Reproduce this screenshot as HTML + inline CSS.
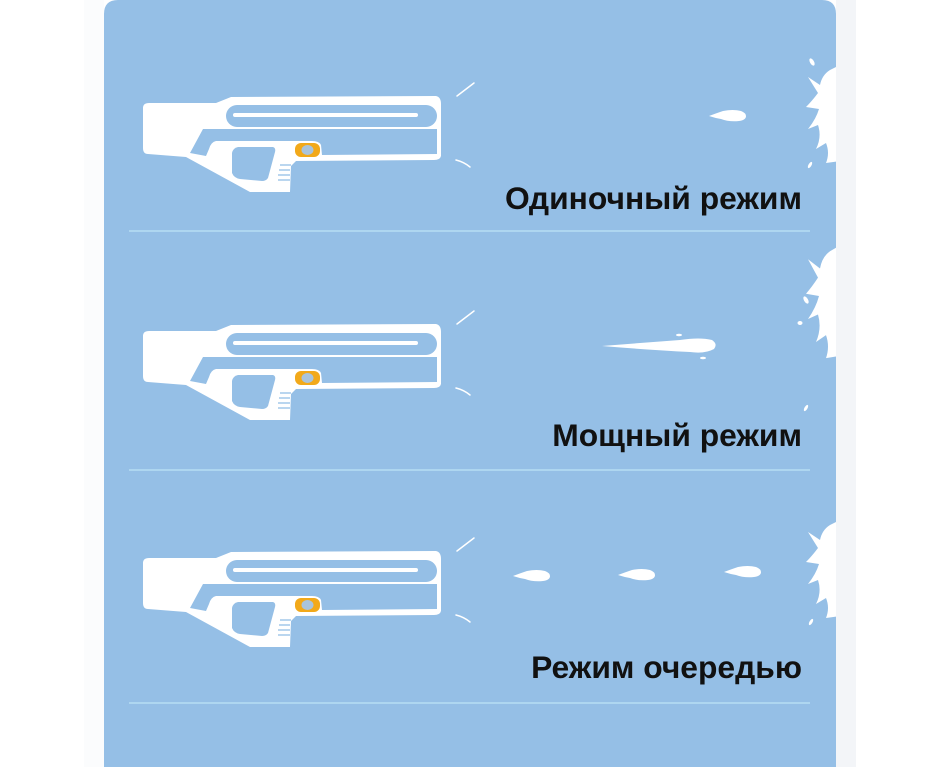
<!DOCTYPE html>
<html><head><meta charset="utf-8"><style>
html,body{margin:0;padding:0;background:#fff;width:938px;height:767px;overflow:hidden}
svg{display:block}
</style></head><body>
<svg width="938" height="767" viewBox="0 0 938 767" xmlns="http://www.w3.org/2000/svg">
<defs>
<clipPath id="card"><path d="M104,0 L836,0 L836,767 L104,767 Z"/></clipPath>
<g id="gun">
  <path fill="#fff" d="M143,108 Q143,103 149,103 L216,103 L231,97 L436,96 Q441,97 441,104 L441,156 Q440,160 434,160 L296,161 L291,166 L290,192 L250,192 L186,157 L148,154 Q143,154 143,148 Z"/>
  <rect x="226" y="105" width="211" height="22" rx="11" fill="#95bfe6"/>
  <path fill="#95bfe6" d="M203,129 L437,129 L437,154 L322,155 L321,145 Q319,141 312,141 L216,141 Q211,142 209,149 L206,156 L190,153 Z"/>
  <path fill="#95bfe6" d="M238,147 L273,147 Q276,148 275,152 L268,178 Q266,181 262,181 L240,179 Q234,178 232,173 L232,153 Q233,148 238,147 Z"/>
  <rect x="233" y="113" width="185" height="4" rx="2" fill="#fff"/>
  <g stroke="#95bfe6" stroke-width="1.3">
    <line x1="280" y1="165" x2="291" y2="165"/><line x1="279" y1="170" x2="290" y2="170"/>
    <line x1="278" y1="175" x2="290" y2="175"/><line x1="278" y1="180" x2="290" y2="180"/>
  </g>
  <rect x="295" y="143" width="25" height="14" rx="6" fill="#f2a91a"/>
  <ellipse cx="307.5" cy="150" rx="6" ry="5" fill="#a9c4dc"/>
  <g stroke="#fff" stroke-width="1.5" stroke-linecap="round">
    <line x1="457" y1="96" x2="474" y2="83"/>
    <path d="M456,160 Q464,162 470,167" fill="none"/>
  </g>
</g>
<path id="drop" fill="#fff" d="M0,0 Q8,-3 14,-5 Q24,-7 32,-5 Q37,-3 37,0 Q37,4 30,5 Q20,6 12,3 Q6,2 0,0 Z"/>
<path id="splash" fill="#fff" d="M840,-50 L830,-45 Q822,-40 820,-30 L808,-38 L818,-22 Q812,-14 806,-8 L819,-6 Q816,4 808,14 L818,10 Q822,22 816,34 L826,28 Q830,38 826,48 L840,46 Z"/>
</defs>
<rect x="84" y="0" width="20" height="767" fill="#fbfcfd"/>
<rect x="836" y="0" width="20" height="767" fill="#f3f5f8"/>
<path d="M104,767 L104,14 Q104,0 118,0 L822,0 Q836,0 836,14 L836,767 Z" fill="#95bfe6"/>
<g stroke="#bde3f5" stroke-width="1.2">
  <line x1="129" y1="231" x2="810" y2="231"/>
  <line x1="129" y1="470" x2="810" y2="470"/>
  <line x1="129" y1="703" x2="810" y2="703"/>
</g>
<use href="#gun"/>
<use href="#gun" transform="translate(0,228)"/>
<use href="#gun" transform="translate(0,455)"/>
<g clip-path="url(#card)">
  <use href="#splash" transform="translate(0,115)"/>
  <ellipse cx="812" cy="62" rx="2" ry="4" fill="#fff" transform="rotate(-30 812 62)"/>
  <ellipse cx="810" cy="165" rx="1.5" ry="3.5" fill="#fff" transform="rotate(30 810 165)"/>
  <use href="#splash" transform="translate(0,357) scale(1,1.15) translate(0,-47)"/>
  <ellipse cx="806" cy="300" rx="2" ry="4" fill="#fff" transform="rotate(-30 806 300)"/>
  <ellipse cx="800" cy="323" rx="2.5" ry="2" fill="#fff"/>
  <ellipse cx="806" cy="408" rx="1.5" ry="3.5" fill="#fff" transform="rotate(30 806 408)"/>
  <use href="#splash" transform="translate(0,570)"/>
  <ellipse cx="811" cy="622" rx="1.5" ry="3.5" fill="#fff" transform="rotate(30 811 622)"/>
</g>
<use href="#drop" transform="translate(709,116)"/>
<path fill="#fff" d="M602,346 Q640,343 680,340 Q700,337 712,340 Q718,344 714,349 Q705,354 690,352 Q650,350 602,346 Z"/>
<ellipse cx="679" cy="335" rx="3" ry="1.2" fill="#fff"/>
<ellipse cx="703" cy="358" rx="3" ry="1.2" fill="#fff"/>
<use href="#drop" transform="translate(513,576)"/>
<use href="#drop" transform="translate(618,575)"/>
<use href="#drop" transform="translate(724,572)"/>
<g font-family="Liberation Sans, sans-serif" font-weight="bold" font-size="31.8" fill="#111" text-anchor="end">
  <text x="802" y="209">Одиночный режим</text>
  <text x="802" y="446">Мощный режим</text>
  <text x="802" y="678">Режим очередью</text>
</g>
</svg>
</body></html>
